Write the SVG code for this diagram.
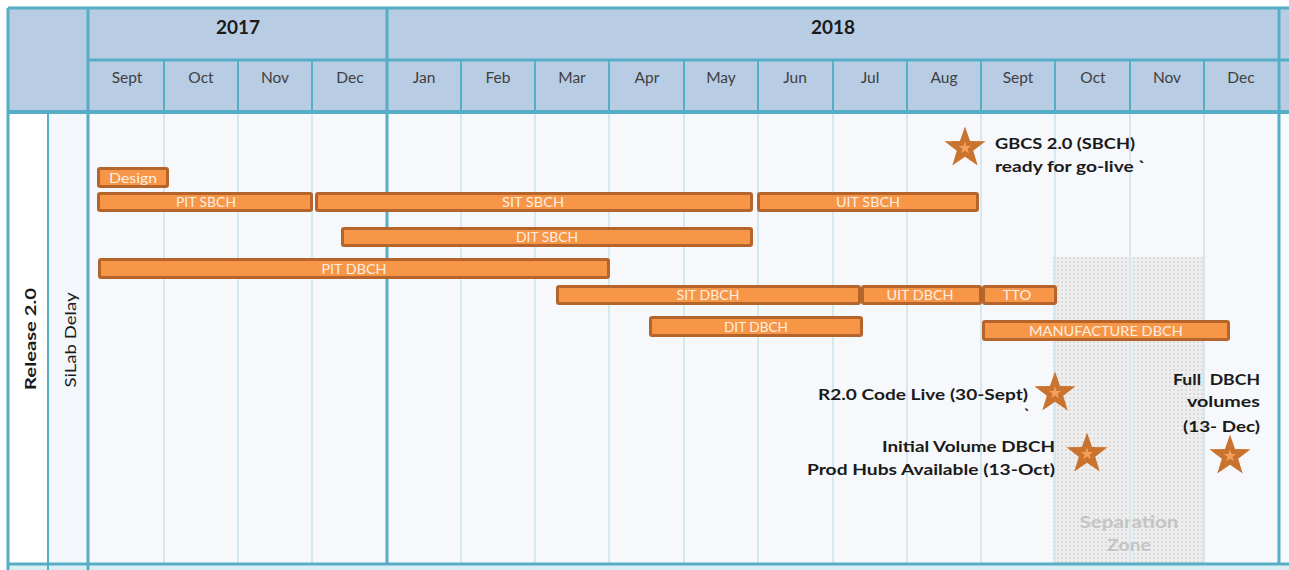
<svg xmlns="http://www.w3.org/2000/svg" width="1289" height="570" viewBox="0 0 1289 570">
<style>
.hl{stroke:#56adc6;stroke-width:3;fill:none}
.hm{stroke:#56adc6;stroke-width:2;fill:none}
.gl{stroke:#d4e8f1;stroke-width:2;fill:none}
.yr{font-family:Lato,"Liberation Sans",sans-serif;font-weight:bold;font-size:19px;fill:#1a1a1a;text-anchor:middle}
.mo{font-family:Lato,"Liberation Sans",sans-serif;font-size:15.5px;fill:#404040;text-anchor:middle}
.bar{fill:#f79646;stroke:#b5652c;stroke-width:3}
.bt{font-family:Lato,"Liberation Sans",sans-serif;font-size:14px;fill:#fdeee2;text-anchor:middle}
.an{font-family:Lato,"Liberation Sans",sans-serif;font-weight:bold;font-size:15.5px;fill:#1a1a1a}
.sz{font-family:Lato,"Liberation Sans",sans-serif;font-weight:bold;font-size:17px;fill:#c4c4c4;text-anchor:middle}
</style>
<defs>
<pattern id="dots" width="4" height="4" patternUnits="userSpaceOnUse">
<rect width="4" height="4" fill="#eeeeee"/>
<circle cx="2" cy="2" r="0.9" fill="#d2d2d2"/>
</pattern>
<g id="star">
<polygon points="0,-20 4.7,-6.47 19.02,-6.18 7.61,2.47 11.76,16.18 0,8 -11.76,16.18 -7.61,2.47 -19.02,-6.18 -4.7,-6.47" fill="#c9732f"/>
<polygon points="0,-20 4.7,-6.47 19.02,-6.18 7.61,2.47 11.76,16.18 0,8 -11.76,16.18 -7.61,2.47 -19.02,-6.18 -4.7,-6.47" fill="#f4a05c" transform="scale(0.3)"/>
</g>
</defs>

<rect width="1289" height="570" fill="#ffffff"/>
<!-- header -->
<g id="header">
<rect x="8" y="8" width="1281" height="104" fill="#b8cce4"/>
<text class="yr" x="238" y="34">2017</text>
<text class="yr" x="833" y="34">2018</text>
<g class="mo">
<text x="127" y="83">Sept</text>
<text x="201" y="83">Oct</text>
<text x="275" y="83">Nov</text>
<text x="350" y="83">Dec</text>
<text x="424" y="83">Jan</text>
<text x="498" y="83">Feb</text>
<text x="572" y="83">Mar</text>
<text x="647" y="83">Apr</text>
<text x="721" y="83">May</text>
<text x="795" y="83">Jun</text>
<text x="870" y="83">Jul</text>
<text x="944" y="83">Aug</text>
<text x="1018" y="83">Sept</text>
<text x="1093" y="83">Oct</text>
<text x="1167" y="83">Nov</text>
<text x="1241" y="83">Dec</text>
</g>
</g>
<!-- body background -->
<rect x="88" y="113" width="1191" height="451" fill="#f6f8fb"/>
<rect x="48" y="113" width="40" height="451" fill="#f3f6fa"/>
<rect x="1279" y="113" width="10" height="451" fill="#f8fafc"/>
<rect x="8" y="565" width="1281" height="5" fill="#dbeef4"/>

<!-- separation zone -->
<g id="separation-zone">
<rect x="1053" y="257" width="150" height="307" fill="url(#dots)"/>
<text class="sz" x="1129" y="528" textLength="99" lengthAdjust="spacingAndGlyphs">Separation</text>
<text class="sz" x="1129" y="551" textLength="44" lengthAdjust="spacingAndGlyphs">Zone</text>
</g>

<!-- grid lines -->
<g id="grid">
<path class="gl" d="M164,114V563M238,114V563M312,114V563M461,114V563M535,114V563M609,114V563M684,114V563M758,114V563M833,114V563M907,114V563M981,114V563M1055,114V563M1130,114V563M1204,114V563"/>
<path class="hm" d="M164,60V112M238,60V112M312,60V112M461,60V112M535,60V112M609,60V112M684,60V112M758,60V112M833,60V112M907,60V112M981,60V112M1055,60V112M1130,60V112M1204,60V112"/>
<path class="hl" d="M8,8H1289M8,8V570M88,8V570M387,8V564M1279,8V564M88,60H1289M8,564H1289"/>
<path class="hm" d="M48,112V570"/>
<path d="M8,112H1289" stroke="#56adc6" stroke-width="4"/>
</g>

<!-- row labels -->
<g id="row-release">
<text transform="translate(36,339) rotate(-90)" font-family="Lato,'Liberation Sans',sans-serif" font-weight="bold" font-size="16" fill="#1a1a1a" text-anchor="middle" textLength="102" lengthAdjust="spacingAndGlyphs">Release 2.0</text>
</g>
<g id="row-silab">
<text transform="translate(76,340) rotate(-90)" font-family="Lato,'Liberation Sans',sans-serif" font-size="14.5" fill="#1a1a1a" text-anchor="middle" textLength="95" lengthAdjust="spacingAndGlyphs">SiLab Delay</text>
</g>

<!-- bars -->
<g id="bar-design"><rect class="bar" x="98.5" y="168.5" width="69" height="18" rx="1.5"/><text class="bt" x="133" y="182.5" textLength="48" lengthAdjust="spacingAndGlyphs">Design</text></g>
<g id="bar-pit-sbch"><rect class="bar" x="98.5" y="193.5" width="213" height="17" rx="1.5"/><text class="bt" x="206" y="207" textLength="60" lengthAdjust="spacingAndGlyphs">PIT SBCH</text></g>
<g id="bar-sit-sbch"><rect class="bar" x="316.5" y="193.5" width="435" height="17" rx="1.5"/><text class="bt" x="533" y="207" textLength="62" lengthAdjust="spacingAndGlyphs">SIT SBCH</text></g>
<g id="bar-uit-sbch"><rect class="bar" x="758.5" y="193.5" width="219" height="17" rx="1.5"/><text class="bt" x="868" y="207" textLength="64" lengthAdjust="spacingAndGlyphs">UIT SBCH</text></g>
<g id="bar-dit-sbch"><rect class="bar" x="342.5" y="228.5" width="409" height="17" rx="1.5"/><text class="bt" x="547" y="242" textLength="62" lengthAdjust="spacingAndGlyphs">DIT SBCH</text></g>
<g id="bar-pit-dbch"><rect class="bar" x="99.5" y="259.5" width="509" height="18" rx="1.5"/><text class="bt" x="354" y="273.5" textLength="65" lengthAdjust="spacingAndGlyphs">PIT DBCH</text></g>
<g id="bar-sit-dbch"><rect class="bar" x="557.5" y="286.5" width="302" height="17" rx="1.5"/><text class="bt" x="708" y="300" textLength="63" lengthAdjust="spacingAndGlyphs">SIT DBCH</text></g>
<g id="bar-uit-dbch"><rect class="bar" x="862.5" y="286.5" width="118" height="17" rx="1.5"/><text class="bt" x="920" y="300" textLength="67" lengthAdjust="spacingAndGlyphs">UIT DBCH</text></g>
<g id="bar-tto"><rect class="bar" x="983.5" y="286.5" width="72" height="17" rx="1.5"/><text class="bt" x="1017" y="300" textLength="29" lengthAdjust="spacingAndGlyphs">TTO</text></g>
<g id="bar-dit-dbch"><rect class="bar" x="650.5" y="317.5" width="211" height="18" rx="1.5"/><text class="bt" x="756" y="331.5" textLength="64" lengthAdjust="spacingAndGlyphs">DIT DBCH</text></g>
<g id="bar-manufacture-dbch"><rect class="bar" x="983.5" y="321.5" width="245" height="18" rx="1.5"/><text class="bt" x="1106" y="335.5" textLength="154" lengthAdjust="spacingAndGlyphs">MANUFACTURE DBCH</text></g>

<!-- milestones -->
<g id="ms-gbcs">
<use href="#star" transform="translate(965,148) scale(1.08)"/>
<text class="an" x="995" y="149" textLength="140" lengthAdjust="spacingAndGlyphs">GBCS 2.0 (SBCH)</text>
<text class="an" x="995" y="172" textLength="151" lengthAdjust="spacingAndGlyphs">ready for go-live `</text>
</g>
<g id="ms-r20">
<use href="#star" transform="translate(1055,393) scale(1.08)"/>
<text class="an" x="1028" y="400" text-anchor="end" textLength="210" lengthAdjust="spacingAndGlyphs">R2.0 Code Live (30-Sept)</text>
<text class="an" x="1024" y="420">`</text>
</g>
<g id="ms-initial">
<use href="#star" transform="translate(1087,454) scale(1.08)"/>
<text class="an" x="1055" y="452" text-anchor="end" textLength="173" lengthAdjust="spacingAndGlyphs">Initial Volume DBCH</text>
<text class="an" x="1055" y="475" text-anchor="end" textLength="248" lengthAdjust="spacingAndGlyphs">Prod Hubs Available (13-Oct)</text>
</g>
<g id="ms-full">
<use href="#star" transform="translate(1230,456) scale(1.08)"/>
<text class="an" x="1260" y="385" text-anchor="end" textLength="87" lengthAdjust="spacingAndGlyphs" xml:space="preserve">Full  DBCH</text>
<text class="an" x="1260" y="407" text-anchor="end" textLength="73" lengthAdjust="spacingAndGlyphs">volumes</text>
<text class="an" x="1260" y="432" text-anchor="end" textLength="77" lengthAdjust="spacingAndGlyphs">(13- Dec)</text>
</g>
</svg>
